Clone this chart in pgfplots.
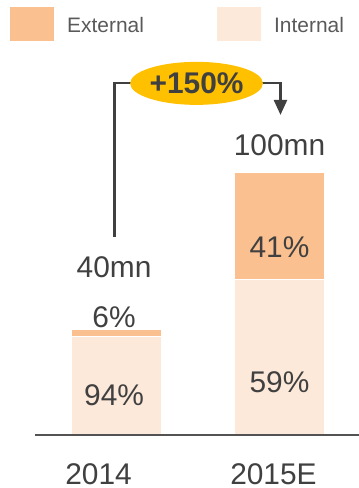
\documentclass[border=0pt]{standalone}
\usepackage{fontspec}
\setmainfont{Liberation Sans}
\usepackage{pgfplots}
\pgfplotsset{compat=1.18}
\usetikzlibrary{arrows.meta,shapes.geometric}
\definecolor{extcol}{HTML}{FAC090}
\definecolor{intcol}{HTML}{FDE9D9}
\definecolor{badge}{HTML}{FFC000}
\definecolor{ink}{HTML}{404040}
\definecolor{legtext}{HTML}{595959}
\tikzset{lbl/.style={anchor=base, font=\fontsize{30}{36}\selectfont, text=ink, inner sep=0pt}}

\begin{document}
\begin{tikzpicture}
\path[use as bounding box] (0,0) rectangle (359bp,488bp);
\begin{axis}[
  name=ax,
  at={(35bp,53bp)}, anchor=south west,
  scale only axis, width=324bp, height=263bp,
  xmin=-0.5, xmax=1.4877, ymin=0, ymax=100,
  ybar stacked, bar width=90bp,
  axis x line=bottom, axis y line=none,
  x axis line style={-, line width=2.6bp, draw=ink!90},
  xtick={-0.11,0.963}, xticklabels={2014,2015E},
  major tick length=0pt,
  xticklabel style={font=\fontsize{30}{36}\selectfont, text=ink, anchor=base, yshift=-49bp},
  clip=false,
  legend columns=2, reverse legend,
  legend style={at={(axis description cs:-0.0772,1.6255)}, anchor=north west,
    draw=none, fill=none, inner sep=0pt, outer sep=0pt,
    font=\fontsize{21}{25}\selectfont, text=legtext,
    nodes={inner sep=0pt},
    /tikz/every odd column/.append style={column sep=13bp},
    /tikz/every even column/.append style={column sep=73bp}},
]
% bars: internal share at the bottom, external share stacked on top
\addplot[fill=intcol, draw=white, line width=1.2bp,
  legend image code/.code={\fill[intcol] (0bp,-14bp) rectangle (43bp,18bp);}]
  coordinates {(0,37.6) (1,59)};
\addplot[fill=extcol, draw=white, line width=1.2bp,
  legend image code/.code={\fill[extcol] (0bp,-14bp) rectangle (43bp,18bp);}]
  coordinates {(0,2.4) (1,41)};
\legend{Internal,External}

% anchor points for the value labels
\coordinate (t15) at (axis cs:1,106.1);
\coordinate (e15) at (axis cs:1,67.3);
\coordinate (i15) at (axis cs:1,16.3);
\coordinate (i14) at (axis cs:-0.015,11.4);
\coordinate (e14) at (axis cs:-0.015,41.0);
\coordinate (t14) at (axis cs:-0.015,59.7);

% growth connector
\coordinate (g0) at (axis cs:-0.012,75.3);
\coordinate (g1) at (axis cs:0.098,133.8);
\coordinate (g2) at (axis cs:0.883,133.8);
\coordinate (g3) at (axis cs:1.006,121.7);
\coordinate (gc) at (axis cs:0.491,133.7);
\end{axis}

% baseline redrawn over the bar outlines
\draw[line width=2.6bp, draw=ink!90] (ax.south west) -- (ax.south east);

\node[lbl] at (t15) {100mn};
\node[lbl] at (e15) {41\%};
\node[lbl] at (i15) {59\%};
\node[lbl] at (i14) {94\%};
\node[lbl] at (e14) {6\%};
\node[lbl] at (t14) {40mn};

\draw[ink, line width=2.4bp] (g0) |- (g1);
\draw[ink, line width=2.4bp, -{Triangle[width=13bp,length=15bp]}] (g2) -| (g3);
\node[ellipse, fill=badge, minimum width=122bp, minimum height=43bp, inner sep=0pt,
      text=ink, font=\fontsize{30}{36}\selectfont\bfseries] at (gc) {+150\%};
\end{tikzpicture}
\end{document}
